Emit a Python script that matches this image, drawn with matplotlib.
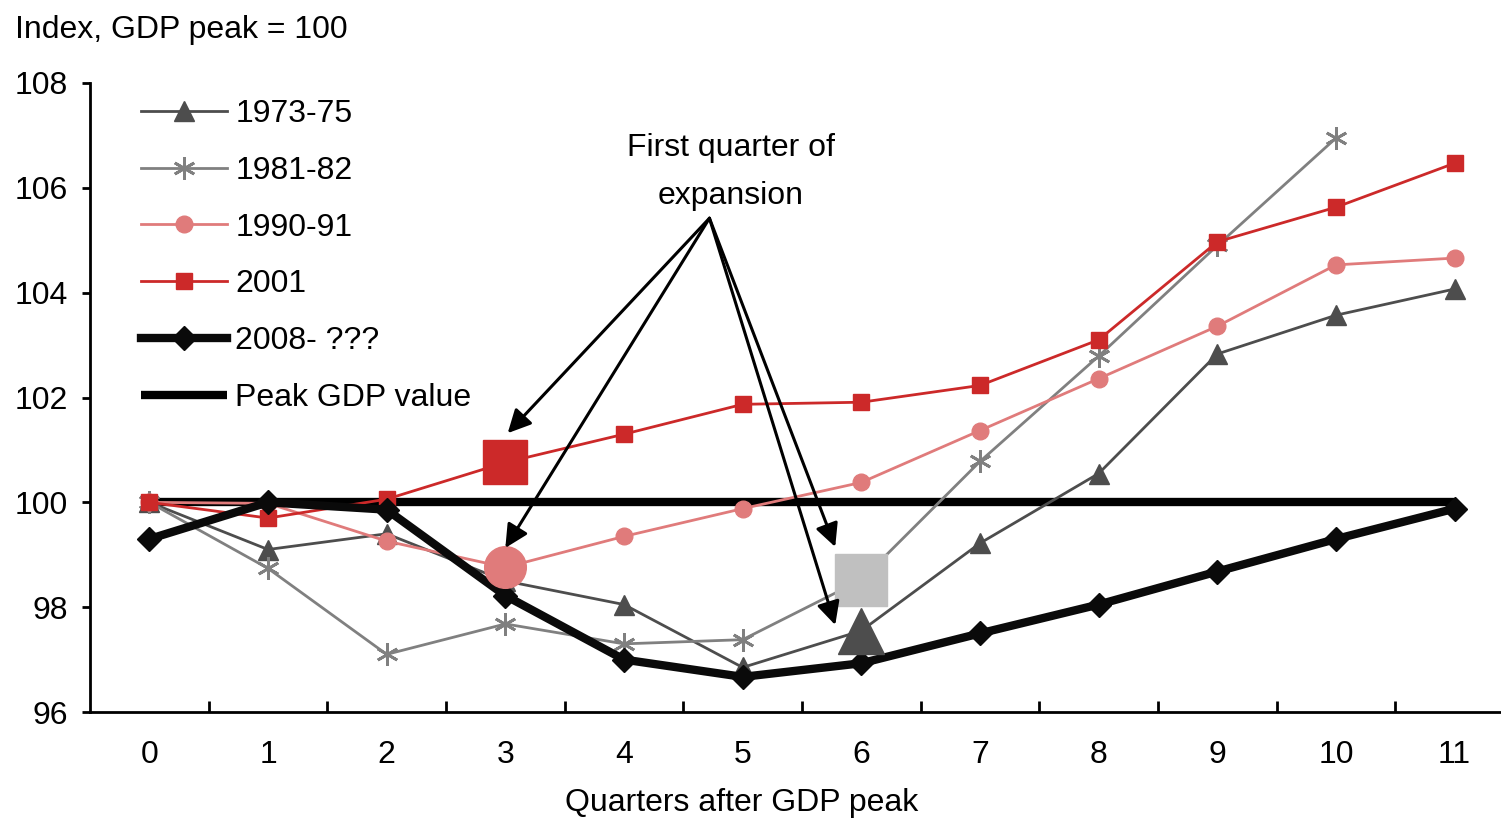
import numpy as np
import matplotlib
matplotlib.use("Agg")
import matplotlib.pyplot as plt

# -------------------------
# DATA
# -------------------------
quarters = list(range(12))
tick_labels = [str(q) for q in quarters]

r1973 = [100.0, 99.1, 99.4, 98.5, 98.05, 96.85, 97.55, 99.22, 100.55, 102.83, 103.57, 104.07]
r1981 = [100.0, 98.74, 97.1, 97.68, 97.3, 97.38, 98.52, 100.78, 102.79, 104.9, 106.95]
r1990 = [100.0, 99.98, 99.26, 98.76, 99.35, 99.88, 100.38, 101.37, 102.36, 103.36, 104.53, 104.66]
r2001 = [100.0, 99.7, 100.06, 100.76, 101.3, 101.87, 101.91, 102.23, 103.1, 104.97, 105.63, 106.47]
r2008 = [99.3, 100.0, 99.86, 98.22, 97.0, 96.67, 96.93, 97.5, 98.05, 98.68, 99.3, 99.88]
peak = [100.0] * 12

# first quarter of expansion for each recession
exp_1973 = 6
exp_1981 = 6
exp_1990 = 3
exp_2001 = 3

annot_text = "First quarter of\nexpansion"

# -------------------------
# STYLE
# -------------------------
plt.rcParams['font.family'] = ['Liberation Sans Narrow', 'Liberation Sans', 'DejaVu Sans']
FS = 23

c73 = '#4d4d4d'
c81 = '#808080'
c90 = '#e07b7b'
c01 = '#cc2929'
c08 = '#0a0a0a'

fig = plt.figure(figsize=(15.01, 8.26), dpi=100)
ax = fig.add_axes([90 / 1501, 1 - 712 / 826, 1424 / 1501, 629 / 826])

ax.plot(quarters, peak, color='black', lw=6, solid_capstyle='butt', label='Peak GDP value', zorder=2)
ax.plot(quarters, r1973, color=c73, lw=2, marker='^', ms=14, label='1973-75', zorder=3)
ax.plot(quarters[:len(r1981)], r1981, color=c81, lw=2, marker=(6, 2, 0), ms=16, mew=2,
        label='1981-82', zorder=3)
ax.plot(quarters, r1990, color=c90, lw=2, marker='o', ms=12, label='1990-91', zorder=3)
ax.plot(quarters, r2001, color=c01, lw=2, marker='s', ms=12, label='2001', zorder=4)
ax.plot(quarters, r2008, color=c08, lw=6, marker='D', ms=12, label='2008- ???', zorder=5)

# big markers: first quarter of expansion
ax.plot(quarters[exp_2001], r2001[exp_2001], marker='s', ms=31, color=c01, zorder=6)
ax.plot(quarters[exp_1990], r1990[exp_1990], marker='o', ms=30, color=c90, zorder=6)
ax.plot(quarters[exp_1981], r1981[exp_1981], marker='s', ms=38, color='#c0c0c0', zorder=6)
ax.plot(quarters[exp_1973], r1973[exp_1973], marker='^', ms=33, color=c73, zorder=6)

# annotation arrows
src = (4.72, 105.42)
targets = [(3.02, 101.32), (3.0, 99.13), (5.78, 99.15), (5.78, 97.66)]
for t in targets:
    ax.annotate('', xy=t, xytext=src,
                arrowprops=dict(arrowstyle='-|>,head_length=0.5,head_width=0.25', color='black',
                                lw=2.2, mutation_scale=28, shrinkA=0, shrinkB=0), zorder=7)
ax.text(4.9, 106.3, annot_text, ha='center', va='center', fontsize=FS, linespacing=1.75)

# axes
ax.set_xlim(-0.5, 11.5)
ax.set_ylim(96, 108)
ax.set_yticks(np.arange(96, 109, 2))
ax.set_xticks(quarters)
ax.set_xticklabels(tick_labels)
ax.set_xticks(np.arange(0.5, 11, 1), minor=True)
ax.tick_params(axis='x', which='major', length=0, pad=20, labelsize=FS)
ax.tick_params(axis='x', which='minor', direction='in', length=8, width=2)
ax.tick_params(axis='y', direction='out', length=6, width=2, pad=10, labelsize=FS)
for s in ['top', 'right']:
    ax.spines[s].set_visible(False)
for s in ['left', 'bottom']:
    ax.spines[s].set_linewidth(2)

ax.set_xlabel('Quarters after GDP peak', fontsize=FS)
ax.xaxis.set_label_coords((742 - 90) / 1424, -(788 - 712) / 629)
fig.text(15 / 1501, 1 - 30 / 826, 'Index, GDP peak = 100', fontsize=FS, ha='left', va='center')

handles, labels = ax.get_legend_handles_labels()
order = [1, 2, 3, 4, 5, 0]
leg = ax.legend([handles[i] for i in order], [labels[i] for i in order],
                loc='upper left', bbox_to_anchor=(0.027, 0.995), frameon=False, fontsize=FS,
                handlelength=2.7, handletextpad=0.25, labelspacing=0.84, borderaxespad=0.0)

fig.savefig('out.png', dpi=100)
